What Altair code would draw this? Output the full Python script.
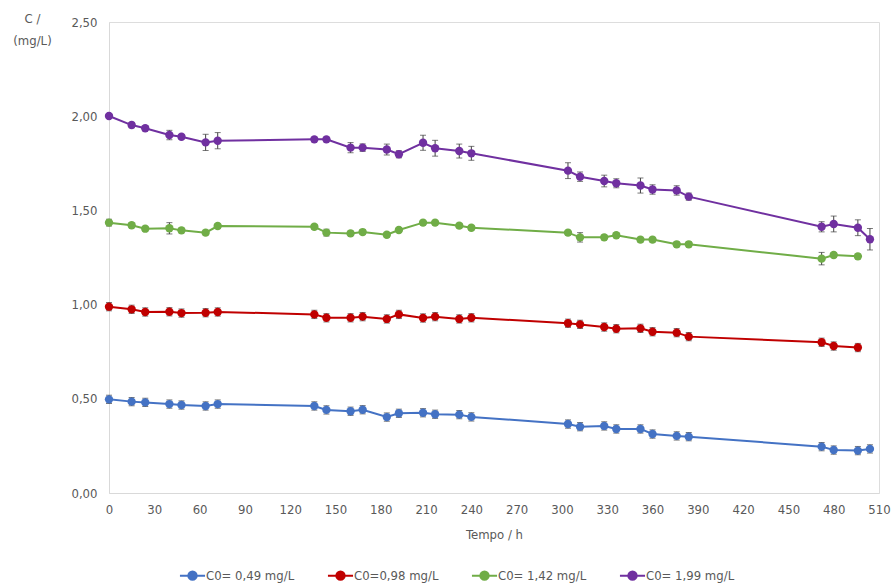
import altair as alt
import pandas as pd

# Sampling times (h)
time = [0, 15, 24, 40, 48, 64, 72, 136, 144, 160, 168, 184, 192, 208, 216,
        232, 240, 304, 312, 328, 336, 352, 360, 376, 384, 472, 480, 496, 504]

series_names = ["C0= 0,49 mg/L", "C0=0,98 mg/L", "C0= 1,42 mg/L", "C0= 1,99 mg/L"]
series_colors = ["#4472C4", "#C00000", "#70AD47", "#7030A0"]

c049 = [0.497, 0.485, 0.481, 0.472, 0.467, 0.462, 0.472, 0.462, 0.441, 0.434,
        0.442, 0.403, 0.423, 0.426, 0.418, 0.416, 0.404, 0.366, 0.352, 0.356,
        0.340, 0.340, 0.313, 0.303, 0.299, 0.246, 0.228, 0.225, 0.234]
e049 = [0.022, 0.022, 0.022, 0.022, 0.022, 0.022, 0.022, 0.022, 0.022, 0.022,
        0.022, 0.022, 0.022, 0.022, 0.022, 0.022, 0.022, 0.022, 0.022, 0.022,
        0.022, 0.022, 0.022, 0.022, 0.022, 0.022, 0.022, 0.022, 0.022]

c098 = [0.989, 0.975, 0.961, 0.962, 0.955, 0.957, 0.961, 0.948, 0.930, 0.930,
        0.936, 0.924, 0.948, 0.929, 0.936, 0.924, 0.930, 0.901, 0.895, 0.881,
        0.872, 0.874, 0.856, 0.851, 0.830, 0.800, 0.780, 0.772]
e098 = [0.022, 0.022, 0.022, 0.022, 0.022, 0.022, 0.022, 0.022, 0.022, 0.022,
        0.022, 0.022, 0.022, 0.022, 0.022, 0.022, 0.022, 0.022, 0.022, 0.022,
        0.022, 0.022, 0.022, 0.022, 0.022, 0.022, 0.022, 0.022]

c142 = [1.435, 1.421, 1.403, 1.405, 1.394, 1.382, 1.417, 1.413, 1.382, 1.378,
        1.385, 1.371, 1.396, 1.435, 1.435, 1.419, 1.408, 1.382, 1.357, 1.357,
        1.368, 1.345, 1.345, 1.320, 1.320, 1.244, 1.263, 1.256]
e142 = [0.018, 0.012, 0.012, 0.030, 0.012, 0.012, 0.012, 0.012, 0.018, 0.012,
        0.012, 0.012, 0.012, 0.012, 0.012, 0.012, 0.012, 0.012, 0.025, 0.012,
        0.012, 0.012, 0.012, 0.012, 0.012, 0.033, 0.012, 0.012]

c199 = [2.001, 1.953, 1.936, 1.900, 1.891, 1.861, 1.870, 1.877, 1.877, 1.833,
        1.833, 1.823, 1.798, 1.859, 1.830, 1.815, 1.803, 1.711, 1.679, 1.656,
        1.644, 1.632, 1.611, 1.606, 1.573, 1.413, 1.428, 1.408, 1.347]
e199 = [0.008, 0.014, 0.012, 0.025, 0.012, 0.043, 0.043, 0.012, 0.012, 0.027,
        0.020, 0.029, 0.019, 0.040, 0.042, 0.037, 0.037, 0.042, 0.025, 0.031,
        0.024, 0.040, 0.025, 0.025, 0.019, 0.027, 0.042, 0.042, 0.057]

x_ticks = [0, 30, 60, 90, 120, 150, 180, 210, 240, 270, 300, 330, 360, 390,
           420, 450, 480, 510]
y_ticks = [0, 0.5, 1.0, 1.5, 2.0, 2.5]

rows = []
for name, vals, errs in zip(series_names, [c049, c098, c142, c199],
                            [e049, e098, e142, e199]):
    for i, (v, e) in enumerate(zip(vals, errs)):
        rows.append({"serie": name, "t": time[i], "c": v,
                     "lo": v - e, "hi": v + e})
df = pd.DataFrame(rows)

FONT = "DejaVu Sans Condensed, Liberation Sans Narrow, Liberation Sans"
GRAY = "#595959"

x_enc = alt.X("t:Q", scale=alt.Scale(domain=[0, 510], nice=False),
              axis=alt.Axis(values=x_ticks, title="Tempo / h", grid=False,
                            ticks=False, labelPadding=10, titlePadding=12,
                            labelFlush=False, labelOverlap=False,
                            domainColor="#D9D9D9", labelColor=GRAY,
                            titleColor=GRAY, labelFontSize=13,
                            titleFontSize=13, titleFontWeight="normal",
                            labelFont=FONT, titleFont=FONT))
y_scale = alt.Scale(domain=[0, 2.5], nice=False)
y_axis = alt.Axis(values=y_ticks, title=["C /", "(mg/L)"], grid=False,
                  ticks=False, labelPadding=12, domainColor="#D9D9D9",
                  labelFlush=False, labelOverlap=False,
                  labelColor=GRAY, titleColor=GRAY, labelFontSize=13,
                  titleFontSize=13, titleFontWeight="normal",
                  labelFont=FONT, titleFont=FONT, titleAngle=0,
                  titleAlign="center", titleBaseline="top", titleX=-77,
                  titleY=-10, titleLineHeight=22,
                  labelExpr="replace(format(datum.value, '.2f'), '.', ',')")

base = alt.Chart(df)

errs_layer = base.mark_errorbar(ticks=alt.MarkConfig(size=6), color="#404040",
                                thickness=1).encode(
    x=x_enc,
    y=alt.Y("lo:Q", scale=y_scale, axis=y_axis),
    y2="hi:Q",
    detail="serie:N",
)

legend = alt.Legend(
    title=None, orient="none", direction="horizontal", legendX=74,
    legendY=544,
    symbolType="M-1.5,0L1.5,0M0.5,0A0.5,0.5,0,1,1,-0.5,0A0.5,0.5,0,1,1,0.5,0Z",
    symbolSize=280, symbolStrokeWidth=2, labelFontSize=13, labelColor=GRAY,
    labelFont=FONT, columnPadding=28, labelOffset=4,
)

color_enc = alt.Color("serie:N", scale=alt.Scale(domain=series_names,
                                                 range=series_colors),
                      sort=series_names, legend=legend)

lines = base.mark_line(strokeWidth=2,
                       point=alt.OverlayMarkDef(filled=True, size=70,
                                                opacity=1)).encode(
    x=x_enc,
    y=alt.Y("c:Q", scale=y_scale, axis=y_axis),
    color=color_enc,
    order="t:Q",
)

chart = alt.layer(errs_layer, lines).properties(
    width=770, height=471,
    autosize=alt.AutoSizeParams(type="none"),
    padding={"left": 109, "top": 22, "right": 17, "bottom": 90},
).configure_view(stroke=None).configure(background="white")

chart.save("out.html", embed_options={"renderer": "svg", "actions": False})
